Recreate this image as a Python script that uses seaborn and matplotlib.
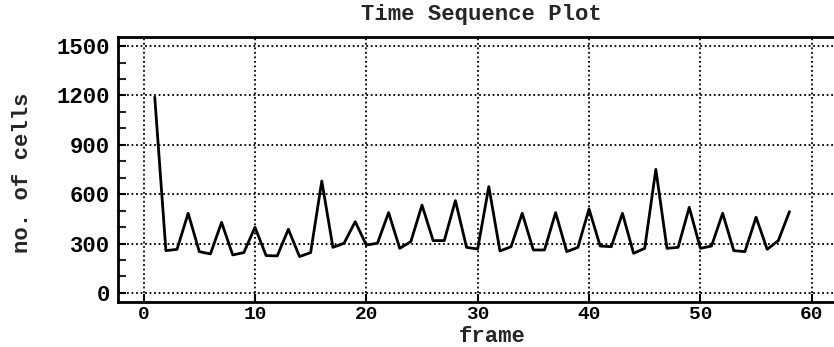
import matplotlib
matplotlib.use("Agg")
import matplotlib.pyplot as plt
import seaborn as sns
import pandas as pd
from matplotlib.ticker import MultipleLocator

frames = list(range(1, 59))
cells = [1190, 257, 265, 484, 251, 237, 429, 231, 245, 399,
         227, 225, 387, 221, 245, 680, 277, 302, 433, 291,
         302, 488, 271, 312, 534, 318, 318, 561, 277, 267,
         646, 255, 281, 484, 261, 261, 488, 251, 277, 510,
         285, 281, 484, 241, 271, 751, 271, 277, 520, 271,
         285, 484, 257, 251, 460, 265, 318, 494]
x_ticks = [0, 10, 20, 30, 40, 50, 60]
y_ticks = [0, 300, 600, 900, 1200, 1500]

sns.set_style("white")
plt.rcParams['font.family'] = ['Liberation Mono', 'DejaVu Sans Mono']
plt.rcParams['font.weight'] = 'bold'

df = pd.DataFrame({"frame": frames, "cells": cells})

fig = plt.figure(figsize=(8.34, 3.47), dpi=100)
ax = fig.add_axes([0.1415, 0.1297, 0.8585, 0.7637])

ax.set_xlim(-2.3, 62)
ax.set_ylim(-55, 1555)
ax.set_xticks(x_ticks)
ax.set_yticks(y_ticks)
ax.yaxis.set_minor_locator(MultipleLocator(100))
ax.grid(True, which='major', color='black', linestyle=(0, (1, 1.5)), linewidth=1.3)
ax.set_axisbelow(True)

sns.lineplot(data=df, x="frame", y="cells", ax=ax, color='black', linewidth=2)

for s in ax.spines.values():
    s.set_color('black')
    s.set_linewidth(2)
ax.spines['right'].set_visible(False)

ax.tick_params(axis='both', which='major', direction='in', length=6, width=1.5,
               colors='black')
ax.tick_params(axis='x', which='major', labelsize=14, pad=3)
ax.tick_params(axis='y', which='major', labelsize=16, pad=6)
ax.tick_params(axis='y', which='minor', direction='in', length=6, width=1.5, left=True)
ax.tick_params(axis='x', which='major', bottom=True)
ax.tick_params(axis='y', which='major', left=True)
for lab in ax.get_xticklabels() + ax.get_yticklabels():
    lab.set_fontweight('bold')

ax.set_xlabel("frame", fontsize=16, fontweight='bold', va='center')
ax.xaxis.set_label_coords(0.522, -0.13)
ax.set_ylabel("no. of cells", fontsize=16, fontweight='bold', va='center')
ax.yaxis.set_label_coords(-0.134, 0.487)
fig.text(0.577, 0.957, "Time Sequence Plot", ha='center', va='center',
         fontsize=16, fontweight='bold')

fig.savefig("out.png", dpi=100)
